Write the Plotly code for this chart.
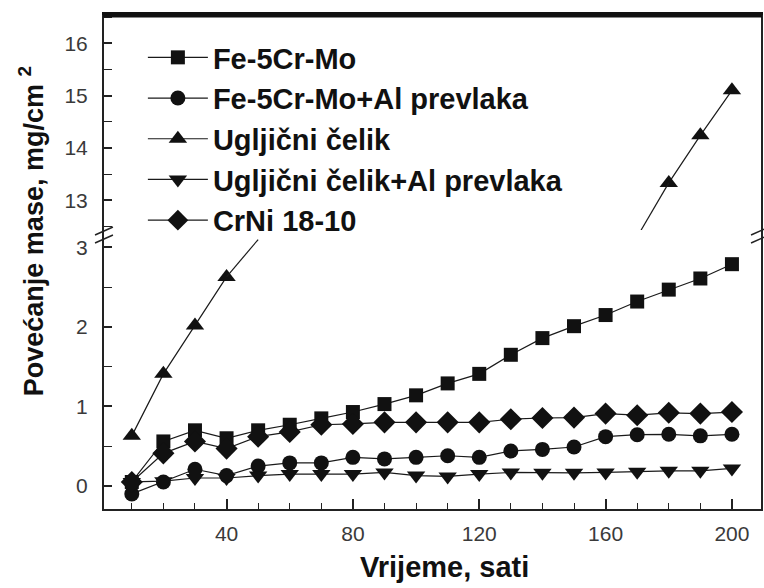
import plotly.graph_objects as go

# ---- data (mass gain, mg/cm2, vs. time, hours) ----
vrijeme = [10, 20, 30, 40, 50, 60, 70, 80, 90, 100,
           110, 120, 130, 140, 150, 160, 170, 180, 190, 200]

fe5crmo = [0.05, 0.56, 0.70, 0.60, 0.70, 0.77, 0.85, 0.93, 1.03, 1.14,
           1.29, 1.41, 1.65, 1.86, 2.01, 2.15, 2.32, 2.47, 2.61, 2.79]

fe5crmo_al = [-0.10, 0.05, 0.21, 0.13, 0.25, 0.29, 0.29, 0.36, 0.34, 0.36,
              0.38, 0.36, 0.44, 0.46, 0.49, 0.62, 0.645, 0.65, 0.63, 0.65]

celik_al = [0.05, 0.06, 0.10, 0.10, 0.13, 0.15, 0.15, 0.15, 0.17, 0.13,
            0.12, 0.15, 0.17, 0.165, 0.165, 0.17, 0.18, 0.19, 0.19, 0.22]

crni = [0.05, 0.41, 0.56, 0.47, 0.62, 0.68, 0.77, 0.78, 0.80, 0.80,
        0.80, 0.80, 0.84, 0.855, 0.86, 0.91, 0.89, 0.92, 0.91, 0.93]

# carbon steel: points on the low scale and on the high scale of the broken axis
celik_x_low = [10, 20, 30, 40]
celik_y_low = [0.63, 1.41, 2.02, 2.63]
celik_x_high = [180, 190, 200]
celik_y_high = [13.33, 14.24, 15.10]
# where the carbon-steel line leaves / re-enters each axis segment
celik_exit_x = [40, 50]
celik_exit_y = [2.63, 3.10]
celik_entry_x = [170, 180]
celik_entry_y = [12.30, 13.33]

x_ticks = [40, 80, 120, 160, 200]

# ---- geometry (pixels) ----
W, H = 764, 588
L, R, T, B = 104, 1, 15, 79
plot_w = W - L - R
plot_h = H - T - B
split_px = 230
low_frac = (H - B - split_px) / plot_h


def px_x(p):
    return (p - L) / plot_w


def px_y(p):
    return (H - B - p) / plot_h


INK = "#111111"
LINE = dict(color="#1a1a1a", width=1.2)
FONT = "Liberation Sans, Arial, sans-serif"

fig = go.Figure()


def add(name, x, y, symbol, size, xa="x", ya="y", legend=True, mode="lines+markers"):
    fig.add_trace(go.Scatter(
        x=x, y=y, name=name, mode=mode,
        line=LINE,
        marker=dict(symbol=symbol, size=size, color=INK, line=dict(width=0)),
        xaxis=xa, yaxis=ya, showlegend=legend, legendgroup=name,
        cliponaxis=(ya != "y"),
    ))


add("Fe-5Cr-Mo", vrijeme, fe5crmo, "square", 14)
add("Fe-5Cr-Mo+Al prevlaka", vrijeme, fe5crmo_al, "circle", 15)
add("Ugljični čelik", celik_x_low, celik_y_low, "triangle-up", 16)
add("Ugljični čelik+Al prevlaka", vrijeme, celik_al, "triangle-down", 16)
add("CrNi 18-10", vrijeme, crni, "diamond", 17)
add("Ugljični čelik", celik_x_high, celik_y_high, "triangle-up", 16,
    xa="x2", ya="y2", legend=False)
add("Ugljični čelik", celik_exit_x, celik_exit_y, "triangle-up", 16,
    legend=False, mode="lines")
add("Ugljični čelik", celik_entry_x, celik_entry_y, "triangle-up", 16,
    xa="x2", ya="y2", legend=False, mode="lines")

tick_font = dict(family=FONT, size=21, color="#3a3a3a")
axis_line = dict(showline=True, linecolor="#222222", linewidth=2)
y_minor = dict(dtick=0.5, tick0=0, ticks="inside", ticklen=8,
               tickwidth=1.2, tickcolor="#222222")

fig.update_layout(
    width=W, height=H,
    margin=dict(l=L, r=R, t=T, b=B),
    paper_bgcolor="white", plot_bgcolor="white",
    showlegend=True,
    legend=dict(
        x=px_x(143), y=px_y(32), xanchor="left", yanchor="top",
        font=dict(family=FONT, size=29, color=INK, weight="bold"),
        bgcolor="rgba(0,0,0,0)", itemwidth=60, traceorder="normal",
    ),
    xaxis=dict(
        domain=[0, 1], anchor="y", range=[1.2, 209.2],
        tickmode="array", tickvals=x_ticks, ticks="inside", ticklen=10,
        tickwidth=1.5, tickcolor="#222222",
        minor=dict(dtick=10, tick0=0, ticks="inside", ticklen=6,
                   tickwidth=1.2, tickcolor="#222222"),
        tickfont=tick_font, showgrid=False, zeroline=False,
        ticklabelstandoff=5, **axis_line,
    ),
    xaxis2=dict(
        domain=[0, 1], anchor="y2", matches="x", side="top",
        showticklabels=False, ticks="", showgrid=False, zeroline=False,
        showline=True, linecolor="#111111", linewidth=3,
    ),
    yaxis=dict(
        domain=[0, low_frac], anchor="x", range=[-0.29, 3.22],
        tick0=0, dtick=1, ticks="inside", ticklen=8, tickwidth=1.5,
        tickcolor="#222222", minor=y_minor,
        tickfont=tick_font, showgrid=False, zeroline=False,
        ticklabelstandoff=10, mirror=True, **axis_line,
    ),
    yaxis2=dict(
        domain=[low_frac, 1], anchor="x2", range=[12.43, 16.54],
        tick0=0, dtick=1, ticks="inside", ticklen=8, tickwidth=1.5,
        tickcolor="#222222", minor=y_minor,
        tickfont=tick_font, showgrid=False, zeroline=False,
        ticklabelstandoff=10, mirror=True, **axis_line,
    ),
)

# heavy top border of the frame
fig.add_shape(type="line", xref="paper", yref="paper",
              x0=px_x(L - 1), x1=px_x(W), y0=px_y(16), y1=px_y(16),
              line=dict(color="#111111", width=3), layer="above")

# axis titles
fig.add_annotation(
    text="Vrijeme, sati", xref="paper", yref="paper",
    x=px_x(446), y=px_y(567), xanchor="center", yanchor="middle",
    showarrow=False, font=dict(family=FONT, size=29, color=INK, weight="bold"),
)
fig.add_annotation(
    text="Povećanje mase, mg/cm <sup>2</sup>", xref="paper", yref="paper",
    x=px_x(31), y=px_y(231), xanchor="center", yanchor="middle",
    textangle=-90, showarrow=False,
    font=dict(family=FONT, size=27, color=INK, weight="bold"),
)

# break marks on both vertical axes
for cx in (L, W - 2):
    for dy in (0, 8):
        fig.add_shape(
            type="line", xref="paper", yref="paper",
            x0=px_x(cx - 9), y0=px_y(split_px + 5 + dy),
            x1=px_x(cx + 9), y1=px_y(split_px - 3 + dy),
            line=dict(color="#222222", width=1.5),
        )

fig.write_html("out.html")
